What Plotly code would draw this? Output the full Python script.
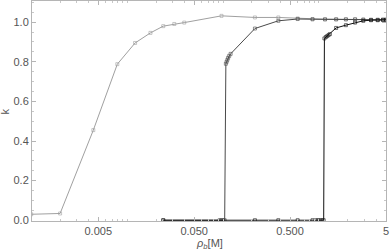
import plotly.graph_objects as go

# Series 1 (light gray)
x1 = [0.001, 0.002, 0.00444, 0.0079, 0.0121, 0.0175, 0.0238, 0.031, 0.0394, 0.0964,
      0.215, 0.377, 0.6, 0.857, 1.157, 1.51, 1.91, 2.38, 2.9, 3.49, 4.1, 4.65, 5.0]
k1 = [0.03, 0.034, 0.455, 0.788, 0.895, 0.946, 0.98, 0.991, 0.998, 1.032,
      1.024, 1.024, 1.019, 1.015, 1.015, 1.015, 1.015, 1.015, 1.013, 1.012, 1.012, 1.012, 1.012]

# Series 2 (dark gray)
x2 = [0.0238, 0.092, 0.095, 0.098, 0.101, 0.104, 0.107, 0.109, 0.111, 0.113, 0.116, 0.12,
      0.215, 0.377, 0.6, 0.857, 1.157, 1.51, 1.91, 2.38, 2.9, 3.49, 4.1, 4.65, 5.0]
k2 = [0.0, 0.0, 0.0, 0.0, 0.0, 0.0, 0.79, 0.80, 0.81, 0.82, 0.83, 0.84,
      0.968, 1.007, 1.016, 1.015, 1.014, 1.014, 1.014, 1.014, 1.013, 1.012, 1.012, 1.012, 1.012]

# Series 3 (black)
x3 = [0.0238, 0.215, 0.377, 0.6, 0.857, 0.93, 0.98, 1.03, 1.08, 1.12,
      1.14, 1.18, 1.22, 1.26, 1.30, 1.51, 1.91, 2.38, 2.9, 3.49, 4.1, 4.65, 5.0]
k3 = [0.0, 0.0, 0.0, 0.0, 0.0, 0.0, 0.0, 0.0, 0.0, 0.0,
      0.918, 0.925, 0.93, 0.935, 0.94, 0.971, 0.985, 0.998, 1.007, 1.01, 1.01, 1.012, 1.012]

xticks = [0.005, 0.05, 0.5, 5]
xticklabels = ["0.005", "0.050", "0.500", "5"]

FONT = "Liberation Sans, Arial, sans-serif"

fig = go.Figure()
for xs, ks, col in [(x1, k1, "#a0a0a0"), (x2, k2, "#4a4a4a"), (x3, k3, "#111111")]:
    fig.add_trace(go.Scatter(
        x=xs, y=ks, mode="lines+markers",
        line=dict(color=col, width=1),
        marker=dict(symbol="square-open", size=3, color=col, line=dict(width=0.6, color=col)),
        showlegend=False, hoverinfo="skip"))

axis_common = dict(
    showline=True, linecolor="#b5b5b5", linewidth=1, mirror="ticks",
    ticks="inside", tickcolor="#b5b5b5", ticklen=4,
    showgrid=False, zeroline=False, automargin=False,
    tickfont=dict(family=FONT, size=11, color="#555555"),
)

fig.update_xaxes(
    type="log", range=[-2.992, 0.699],
    tickvals=xticks, ticktext=xticklabels,
    minor=dict(ticks="inside", ticklen=2, tickcolor="#c8c8c8", dtick="D1"),
    **axis_common)
fig.update_yaxes(
    range=[-0.004, 1.107], dtick=0.2, tickformat=".1f",
    minor=dict(ticks="inside", ticklen=2, tickcolor="#c8c8c8", dtick=0.05),
    **axis_common)

fig.update_layout(
    width=390, height=249,
    margin=dict(l=32, r=4, t=1, b=28),
    plot_bgcolor="white", paper_bgcolor="white",
    annotations=[
        dict(text="<i>ρ</i><sub><i>b</i></sub>[M]", xref="paper", yref="paper",
             x=0.5, y=-0.062, xanchor="center", yanchor="top", showarrow=False,
             font=dict(family=FONT, size=11, color="#555555")),
        dict(text="k", xref="paper", yref="paper", x=-0.075, y=0.5,
             xanchor="center", yanchor="middle", textangle=-90, showarrow=False,
             font=dict(family=FONT, size=11, color="#555555")),
    ],
)

fig.write_html("out.html", config={"displayModeBar": False},
               post_script="document.body.style.margin='0';document.body.style.overflow='hidden';")
